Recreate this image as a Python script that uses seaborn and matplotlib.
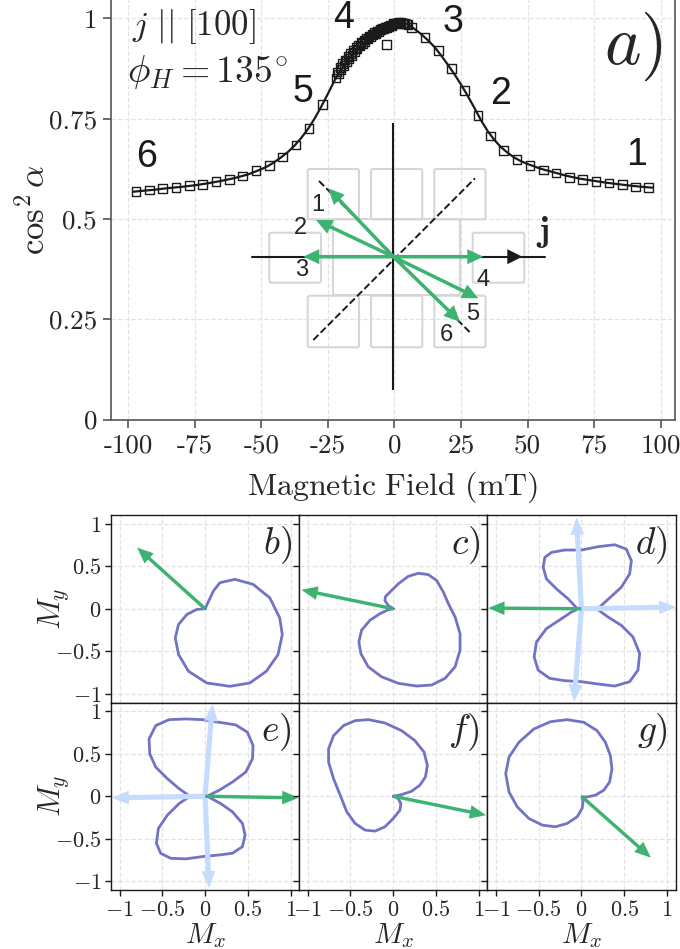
import matplotlib
matplotlib.use("Agg")
import matplotlib.pyplot as plt
import seaborn as sns
from matplotlib.patches import FancyBboxPatch

sns.set_theme(style="ticks")
plt.rcParams["font.family"] = ["DejaVu Sans"]
plt.rcParams["mathtext.fontset"] = "cm"

# ---------------- panel a) data ----------------
# sparse sweep points
field_left = [-97, -92, -87, -82, -77, -72, -67, -62, -57, -52, -47, -42, -37, -32, -27]
cos2_left = [0.569, 0.572, 0.576, 0.579, 0.584, 0.586, 0.594, 0.599, 0.607, 0.621,
             0.633, 0.655, 0.684, 0.726, 0.786]
field_right = [6.3, 11.5, 16.5, 21.5, 26.3, 31.3, 36.1, 41.0, 46.0, 50.9, 55.9, 60.7,
               65.6, 70.6, 75.6, 80.6, 85.6, 90.5, 95.4]
cos2_right = [0.977, 0.953, 0.920, 0.875, 0.821, 0.758, 0.707, 0.671, 0.648, 0.634,
              0.622, 0.615, 0.604, 0.599, 0.594, 0.590, 0.586, 0.580, 0.579]
# densely sampled region near the peak (two sweeps)
field_dense_up = [-22, -21, -20, -19, -18, -17, -16, -15, -14, -13, -12, -11, -10, -9,
                  -8, -7, -6, -5, -4, -3, -2, -1, 0, 1, 2, 3, 4, 5]
cos2_dense_up = [0.851, 0.862, 0.873, 0.883, 0.892, 0.900, 0.908, 0.916, 0.924, 0.931,
                 0.937, 0.943, 0.949, 0.954, 0.959, 0.963, 0.967, 0.971, 0.974, 0.977,
                 0.980, 0.983, 0.986, 0.988, 0.989, 0.989, 0.988, 0.985]
field_dense_dn = [-21.5, -20.5, -19.5, -18.5, -17.5, -16.5, -15.5, -14.5, -13.5, -12.5,
                  -11.5, -10.5, -9.5, -8.5, -7.5, -6.5, -5.5, -4.5, -3.5, -3.0, -2.5,
                  -1.5, -0.5, 0.5, 1.5, 2.5, 3.5, 4.5]
cos2_dense_dn = [0.866, 0.877, 0.887, 0.896, 0.905, 0.913, 0.921, 0.928, 0.934, 0.940,
                 0.946, 0.951, 0.956, 0.961, 0.965, 0.969, 0.972, 0.975, 0.978, 0.935,
                 0.981, 0.984, 0.987, 0.989, 0.990, 0.990, 0.988, 0.986]

# model curve
line_field = [-98, -95, -90, -85, -80, -75, -70, -65, -60, -55, -50, -47.5, -45, -42.5,
              -40, -37.5, -35, -32.5, -30, -27.5, -25, -22.5, -20, -17.5, -15, -12.5,
              -10, -7.5, -5, -2.5, 0, 2.5, 5, 7.5, 10, 12.5, 15, 17.5, 20, 22.5, 25,
              27.5, 30, 32.5, 35, 37.5, 40, 42.5, 45, 47.5, 50, 55, 60, 65, 70, 75,
              80, 85, 90, 95, 97]
line_cos2 = [0.568, 0.570, 0.573, 0.577, 0.580, 0.584, 0.589, 0.595, 0.602, 0.611,
             0.624, 0.632, 0.642, 0.654, 0.667, 0.683, 0.702, 0.724, 0.750, 0.780,
             0.812, 0.845, 0.873, 0.897, 0.917, 0.934, 0.948, 0.961, 0.971, 0.980,
             0.986, 0.989, 0.986, 0.974, 0.961, 0.946, 0.929, 0.908, 0.885, 0.861,
             0.835, 0.807, 0.777, 0.746, 0.719, 0.697, 0.679, 0.665, 0.653, 0.644,
             0.637, 0.625, 0.616, 0.607, 0.600, 0.595, 0.590, 0.586, 0.582, 0.579,
             0.578]

state_labels = ["1", "2", "3", "4", "5", "6"]
state_field = [90.9, 40.0, 21.8, -19.1, -34.5, -93.1]
state_cos2 = [0.659, 0.812, 0.992, 1.000, 0.817, 0.654]

xtick_vals = [-100, -75, -50, -25, 0, 25, 50, 75, 100]
xtick_text = ["-100", "-75", "-50", "-25", "0", "25", "50", "75", "100"]
ytick_vals = [0, 0.25, 0.5, 0.75, 1]
ytick_text = ["0", "0.25", "0.5", "0.75", "1"]

# inset sketch (units: centre of the device = 0)
inset_tip_x = [-0.65, -0.773, -0.90, 0.90, 0.85, 0.667]
inset_tip_y = [0.684, 0.367, 0.0, 0.0, -0.416, -0.65]
inset_lab_x = [-0.753, -0.926, -0.916, 0.897, 0.797, 0.534]
inset_lab_y = [0.517, 0.287, -0.133, -0.233, -0.573, -0.783]
pad_x0 = [-0.856, -0.223, 0.410, -1.240, 0.794, -0.856, -0.223, 0.410]
pad_y0 = [0.374, 0.374, 0.374, -0.260, -0.260, -0.906, -0.906, -0.906]
pad_w = [0.513, 0.513, 0.513, 0.517, 0.516, 0.513, 0.513, 0.513]
pad_h = [0.503, 0.503, 0.503, 0.500, 0.500, 0.516, 0.516, 0.516]
easy_axis_x = [-0.80, 0.817]
easy_axis_y = [-0.833, 0.784]
hard_axis_x = [-0.743, 0.783]
hard_axis_y = [0.757, -0.773]

# ---------------- panels b)-g) data ----------------
b_x = [0, 0.097, 0.174, 0.349, 0.562, 0.756, 0.872, 0.903, 0.853, 0.717, 0.523, 0.291,
       0.019, -0.194, -0.310, -0.349, -0.310, -0.213, -0.097]
b_y = [0, 0.208, 0.306, 0.345, 0.286, 0.129, -0.106, -0.302, -0.537, -0.733, -0.871,
       -0.910, -0.871, -0.733, -0.537, -0.341, -0.184, -0.067, -0.008]
c_x = [0, -0.059, -0.098, -0.090, -0.039, 0.059, 0.176, 0.293, 0.410, 0.508, 0.586,
       0.645, 0.723, 0.781, 0.781, 0.723, 0.605, 0.449, 0.273, 0.059, -0.137, -0.293,
       -0.379, -0.402, -0.371, -0.273, -0.156, -0.059]
c_y = [0, 0.039, 0.097, 0.144, 0.195, 0.292, 0.381, 0.416, 0.401, 0.331, 0.195, 0.058,
       -0.097, -0.292, -0.486, -0.681, -0.817, -0.895, -0.907, -0.875, -0.798, -0.681,
       -0.525, -0.389, -0.253, -0.136, -0.058, -0.012]
d_x = [0.195, 0.233, 0.331, 0.467, 0.564, 0.584, 0.525, 0.389, 0.195, 0, -0.195,
       -0.350, -0.428, -0.447, -0.409, -0.292, -0.156, -0.058, -0.058, -0.117, -0.233,
       -0.409, -0.525, -0.553, -0.506, -0.370, -0.195, 0, 0.195, 0.389, 0.564, 0.661,
       0.681, 0.603, 0.467, 0.311, 0.195]
d_y = [0, 0.039, 0.128, 0.253, 0.409, 0.564, 0.700, 0.751, 0.728, 0.689, 0.689, 0.661,
       0.603, 0.486, 0.350, 0.233, 0.117, 0.012, -0.012, -0.039, -0.117, -0.233, -0.389,
       -0.564, -0.720, -0.817, -0.844, -0.856, -0.883, -0.907, -0.856, -0.720, -0.525,
       -0.331, -0.195, -0.097, -0.012]
e_x = [0.047, 0.164, 0.320, 0.476, 0.554, 0.561, 0.495, 0.359, 0.164, -0.031, -0.226,
       -0.421, -0.577, -0.655, -0.647, -0.577, -0.441, -0.304, -0.195, -0.195, -0.304,
       -0.441, -0.546, -0.569, -0.519, -0.402, -0.226, -0.031, 0.164, 0.320, 0.437,
       0.468, 0.437, 0.320, 0.183, 0.047]
e_y = [0.012, 0.070, 0.167, 0.284, 0.440, 0.595, 0.751, 0.837, 0.868, 0.899, 0.907,
       0.899, 0.829, 0.673, 0.498, 0.342, 0.206, 0.089, 0.012, -0.012, -0.086, -0.222,
       -0.377, -0.553, -0.669, -0.728, -0.735, -0.708, -0.689, -0.669, -0.591, -0.455,
       -0.319, -0.183, -0.086, -0.012]
f_x = [0, 0.058, 0.089, 0.078, 0, -0.097, -0.213, -0.329, -0.446, -0.543, -0.620,
       -0.698, -0.756, -0.756, -0.698, -0.581, -0.446, -0.291, -0.097, 0.097, 0.252,
       0.360, 0.399, 0.376, 0.310, 0.213, 0.097]
f_y = [0, -0.027, -0.086, -0.163, -0.261, -0.358, -0.409, -0.397, -0.319, -0.183, 0.012,
       0.206, 0.401, 0.556, 0.712, 0.829, 0.887, 0.899, 0.860, 0.770, 0.654, 0.518,
       0.362, 0.226, 0.128, 0.058, 0.019]
g_x = [0.008, 0.066, 0.163, 0.260, 0.330, 0.357, 0.338, 0.280, 0.183, 0.027, -0.167,
       -0.361, -0.555, -0.730, -0.847, -0.885, -0.847, -0.750, -0.614, -0.458, -0.303,
       -0.167, -0.050, 0.008, 0.019]
g_y = [-0.008, -0.008, 0.012, 0.070, 0.167, 0.323, 0.479, 0.634, 0.770, 0.868, 0.899,
       0.875, 0.790, 0.634, 0.459, 0.265, 0.051, -0.125, -0.261, -0.339, -0.358, -0.319,
       -0.241, -0.144, -0.066]

panel_names = ["b", "c", "d", "e", "f", "g"]
curves_x = [b_x, c_x, d_x, e_x, f_x, g_x]
curves_y = [b_y, c_y, d_y, e_y, f_y, g_y]
green_tip_x = [-0.795, -1.074, -1.089, 1.092, 1.085, 0.812]
green_tip_y = [0.718, 0.222, 0.008, -0.019, -0.222, -0.720]
# pale arrows only in d) and e)
pale_tip_x = {2: [-0.058, -0.086, 1.109], 3: [0.086, 0.047, -1.092]}
pale_tip_y = {2: [1.07, -1.09, 0.02], 3: [1.082, -1.078, -0.019]}
m_ticks = [-1, -0.5, 0, 0.5, 1]
m_tick_text = [r"$-1$", r"$-0.5$", r"$0$", r"$0.5$", r"$1$"]

GREEN = "#3cb371"
PURPLE = "#7373c6"
PALE = "#c6dbfd"
GRID = "#e3e3e3"
SANS = ["Liberation Sans", "DejaVu Sans"]

W, H = 680, 949
fig = plt.figure(figsize=(6.8, 9.49), dpi=100)

# ---------------- main axes ----------------
ax = fig.add_axes([111 / W, 1 - 419.5 / H, 564 / W, 419.5 / H])
ax.set_axisbelow(True)
ax.grid(True, ls="--", color=GRID, lw=0.9)
sns.lineplot(x=line_field, y=line_cos2, color="k", lw=1.6, ax=ax, zorder=3)
for fx, cy in [(field_left, cos2_left), (field_dense_up, cos2_dense_up),
               (field_dense_dn, cos2_dense_dn), (field_right, cos2_right)]:
    sns.scatterplot(x=fx, y=cy, marker="s", s=38, color="none", edgecolor="k",
                    linewidth=1.0, ax=ax, zorder=4)
ax.set_xlim(-106.4, 105.3)
ax.set_ylim(0, 1.046)
ax.set_xticks(xtick_vals)
ax.set_xticklabels(xtick_text, fontfamily="cmr10", fontsize=19.5)
ax.set_yticks(ytick_vals)
ax.set_yticklabels(ytick_text, fontfamily="cmr10", fontsize=19.5)
ax.tick_params(length=6, width=1.2, color="#555555", labelcolor="#262626", pad=4)
for side in ["left", "bottom", "right"]:
    ax.spines[side].set_color("#555555")
    ax.spines[side].set_linewidth(1.2)
ax.spines["top"].set_visible(False)
ax.spines["right"].set_visible(True)
ax.set_xlabel(r"$\mathrm{Magnetic\ Field\ (mT)}$", fontsize=23, color="#262626")
ax.xaxis.set_label_coords(0.5, -0.118)
ax.set_ylabel(r"$\cos^2\alpha$", fontsize=25, color="#262626")
ax.yaxis.set_label_coords(-0.105, 0.5)

for lab, hx, cy in zip(state_labels, state_field, state_cos2):
    ax.text(hx, cy, lab, fontsize=27, family=SANS, ha="center", va="center", color="k")
ax.text(0.037, 0.936, r"$j\ ||\ [100]$", transform=ax.transAxes, fontsize=25,
        va="center", ha="left")
ax.text(0.028, 0.828, r"$\phi_H = 135^{\!\circ}$", transform=ax.transAxes, fontsize=27,
        va="center", ha="left")
ax.text(0.979, 0.888, r"$a)$", transform=ax.transAxes, fontsize=50, va="center",
        ha="right")

# ---------------- inset sketch ----------------
ins = fig.add_axes([243.3 / W, 1 - 390 / H, 305 / W, 267 / H])
ins.set_xlim(-1.5, 1.55)
ins.set_ylim(-1.333, 1.337)
ins.axis("off")
ins.patch.set_alpha(0)
for x0, y0, w, h in zip(pad_x0, pad_y0, pad_w, pad_h):
    ins.add_patch(FancyBboxPatch((x0, y0), w, h, boxstyle="round,pad=0,rounding_size=0.02",
                                 fc="none", ec="#d6d6d6", lw=1.5, zorder=1))
ins.add_patch(FancyBboxPatch((-0.603, -0.383), 1.27, 0.76,
                             boxstyle="round,pad=0,rounding_size=0.02",
                             fc="none", ec="#d6d6d6", lw=1.5, zorder=1))
ins.plot([0, 0], [-1.333, 1.337], color="k", lw=1.5, zorder=2)
ins.plot([-1.416, 1.517], [0, 0], color="k", lw=1.5, zorder=2)
ins.arrow(1.12, 0, 0.17, 0, width=0.012, head_width=0.15, head_length=0.15,
          length_includes_head=True, fc="k", ec="k", lw=0, zorder=3)
ins.text(1.49, 0.245, r"$\mathbf{j}$", fontsize=26, ha="center", va="center")
ins.plot(easy_axis_x, easy_axis_y, color="k", lw=1.4, ls="--", zorder=2)
ins.plot(hard_axis_x, hard_axis_y, color="k", lw=1.4, ls="--", zorder=2)
for tx, ty in zip(inset_tip_x, inset_tip_y):
    ins.arrow(0, 0, tx, ty, width=0.035, head_width=0.15, head_length=0.16,
              length_includes_head=True, fc=GREEN, ec=GREEN, lw=0, zorder=4)
for lab, lx, ly in zip(state_labels, inset_lab_x, inset_lab_y):
    ins.text(lx, ly, lab, fontsize=17, family=SANS, ha="center", va="center", zorder=5)

# ---------------- panels b)-g) ----------------
gs = fig.add_gridspec(2, 3, left=111 / W, right=675.5 / W, top=1 - 515 / H,
                      bottom=1 - 890 / H, wspace=0, hspace=0)
axs = gs.subplots(sharex=True, sharey=True)
for i, a in enumerate(axs.flat):
    a.set_axisbelow(True)
    a.grid(True, ls="--", color=GRID, lw=0.9)
    cx = curves_x[i] + curves_x[i][:1]
    cy = curves_y[i] + curves_y[i][:1]
    sns.lineplot(x=cx, y=cy, sort=False, estimator=None, color=PURPLE, lw=2.0, ax=a,
                 zorder=2, solid_joinstyle="round")
    if i in pale_tip_x:
        for tx, ty in zip(pale_tip_x[i], pale_tip_y[i]):
            a.arrow(0, 0, tx, ty, width=0.06, head_width=0.16, head_length=0.2,
                    length_includes_head=True, fc=PALE, ec=PALE, lw=0, zorder=3)
    a.arrow(0, 0, green_tip_x[i], green_tip_y[i], width=0.04, head_width=0.16,
            head_length=0.19, length_includes_head=True, fc=GREEN, ec=GREEN, lw=0,
            zorder=4)
    a.set_xlim(-1.1, 1.1)
    a.set_ylim(-1.1, 1.1)
    a.set_xticks(m_ticks)
    a.set_yticks(m_ticks)
    a.tick_params(length=4, width=1, color="k", labelsize=16, labelcolor="#262626",
                  pad=3)
    for s in a.spines.values():
        s.set_color("k")
        s.set_linewidth(1.0)
    a.text(0.96, 0.84, "$" + panel_names[i] + ")$", transform=a.transAxes, fontsize=27,
           ha="right", va="center")

for a in axs[:, 0]:
    a.set_yticklabels(m_tick_text)
    a.set_ylabel(r"$M_y$", fontsize=22, color="#262626")
    a.yaxis.set_label_coords(-0.215, 0.5)
for a in axs[1, :]:
    a.set_xticklabels(m_tick_text)
    a.set_xlabel(r"$M_x$", fontsize=21, color="#262626")
    a.xaxis.set_label_coords(0.5, -0.165)

fig.savefig("out.png", dpi=100)
